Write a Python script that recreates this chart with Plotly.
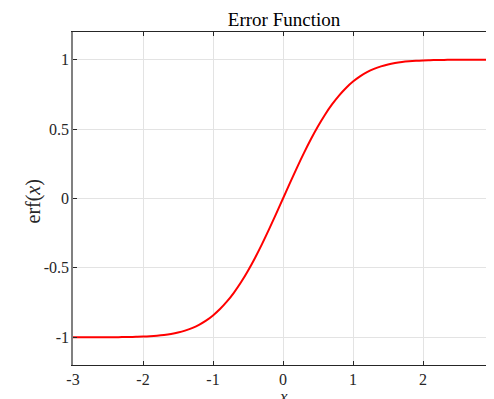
import plotly.graph_objects as go

x_vals = [-3.0, -2.9, -2.8, -2.7, -2.6, -2.5, -2.4, -2.3, -2.2, -2.1,
          -2.0, -1.9, -1.8, -1.7, -1.6, -1.5, -1.4, -1.3, -1.2, -1.1,
          -1.0, -0.9, -0.8, -0.7, -0.6, -0.5, -0.4, -0.3, -0.2, -0.1,
          0.0, 0.1, 0.2, 0.3, 0.4, 0.5, 0.6, 0.7, 0.8, 0.9,
          1.0, 1.1, 1.2, 1.3, 1.4, 1.5, 1.6, 1.7, 1.8, 1.9,
          2.0, 2.1, 2.2, 2.3, 2.4, 2.5, 2.6, 2.7, 2.8, 2.9, 3.0]
erf_vals = [-1.0000, -1.0000, -0.9999, -0.9999, -0.9998, -0.9996, -0.9993, -0.9989, -0.9981, -0.9970,
            -0.9953, -0.9928, -0.9891, -0.9838, -0.9763, -0.9661, -0.9523, -0.9340, -0.9103, -0.8802,
            -0.8427, -0.7969, -0.7421, -0.6778, -0.6039, -0.5205, -0.4284, -0.3286, -0.2227, -0.1125,
            0.0000, 0.1125, 0.2227, 0.3286, 0.4284, 0.5205, 0.6039, 0.6778, 0.7421, 0.7969,
            0.8427, 0.8802, 0.9103, 0.9340, 0.9523, 0.9661, 0.9763, 0.9838, 0.9891, 0.9928,
            0.9953, 0.9970, 0.9981, 0.9989, 0.9993, 0.9996, 0.9998, 0.9999, 0.9999, 1.0000, 1.0000]
x_ticks = [-3, -2, -1, 0, 1, 2, 3]
x_tick_labels = ["-3", "-2", "-1", "0", "1", "2", "3"]
y_ticks = [-1, -0.5, 0, 0.5, 1]
y_tick_labels = ["-1", "-0.5", "0", "0.5", "1"]

FONT = "Liberation Serif"
W, H = 486, 391  # page body has an 8px margin

fig = go.Figure()
fig.add_trace(go.Scatter(x=x_vals, y=erf_vals, mode="lines",
                         line=dict(color="#ff0000", width=2, shape="spline"),
                         showlegend=False, hoverinfo="skip"))

fig.update_layout(
    width=W, height=H,
    margin=dict(l=65, r=1, t=24, b=34),
    paper_bgcolor="white", plot_bgcolor="white",
    font=dict(family=FONT, size=16, color="#262626"),
    title=dict(text="Error Function", x=276 / W, xanchor="center",
               y=1 - 11 / H, yanchor="middle",
               font=dict(family=FONT, size=19, color="#000000")),
)
fig.update_xaxes(
    range=[-3, 3], tickvals=x_ticks, ticktext=x_tick_labels,
    showgrid=True, gridcolor="#e3e3e3", gridwidth=1, zeroline=False,
    showline=True, linecolor="#262626", linewidth=1, mirror="ticks",
    ticks="inside", ticklen=4, tickcolor="#262626",
    ticklabeloverflow="allow", automargin=False,
    tickfont=dict(family=FONT, size=16, color="#262626"),
)
fig.update_yaxes(
    range=[-1.2, 1.2], tickvals=y_ticks, ticktext=y_tick_labels,
    showgrid=True, gridcolor="#e3e3e3", gridwidth=1, zeroline=False,
    showline=True, linecolor="#808080", linewidth=1.5, mirror="ticks",
    ticks="inside", ticklen=4, tickcolor="#262626",
    ticklabelstandoff=-1, ticklabeloverflow="allow", automargin=False,
    tickfont=dict(family=FONT, size=16, color="#262626"),
)
# axis titles
fig.add_annotation(text="<i>x</i>", xref="paper", yref="paper", x=0.5, y=0,
                   xanchor="center", yanchor="middle", yshift=-31, showarrow=False,
                   font=dict(family=FONT, size=17, color="#262626"))
fig.add_annotation(text="erf(<i>x</i>)", xref="paper", yref="paper", x=0, y=0.5,
                   xanchor="center", yanchor="middle", xshift=-40, yshift=-3,
                   textangle=-90, showarrow=False,
                   font=dict(family=FONT, size=20, color="#262626"))

fig.write_html("out.html")
